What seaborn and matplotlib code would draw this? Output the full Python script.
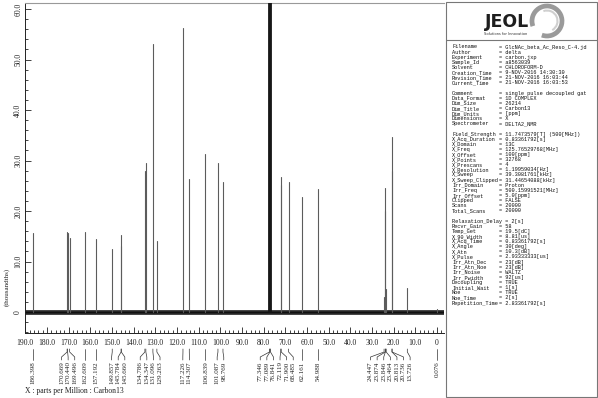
import numpy as np
import pandas as pd
import seaborn as sns
import matplotlib.pyplot as plt
from matplotlib.lines import Line2D
from matplotlib.patches import Arc, Rectangle
from matplotlib.transforms import blended_transform_factory
from matplotlib.ticker import MultipleLocator, FuncFormatter

# Peak list (ppm) and heights (thousandths)
peak_ppm = [186.398, 170.669, 170.440, 169.496, 162.609, 157.192, 149.857,
            145.784, 145.660, 134.786, 134.347, 131.096, 129.263, 117.226,
            114.307, 106.839, 101.087, 98.769, 77.346, 77.089, 76.841,
            72.119, 71.900, 68.485, 62.161, 54.988, 24.447, 23.874, 23.846,
            23.464, 20.813, 20.736, 13.726, 0.076]
peak_height = [15.6, 15.9, 15.6, 14.6, 15.8, 14.4, 12.5,
               15.2, 13.0, 28.0, 29.5, 53.0, 14.0, 56.3,
               26.3, 31.3, 29.5, 25.7, 95.0, 110.0, 95.0,
               26.7, 25.1, 25.7, 22.8, 24.3, 3.0, 24.5, 20.0,
               4.5, 34.6, 28.0, 4.8, 0.6]

# Acquisition parameters (None = blank line)
param_rows = [
    ("Filename", "GlcNAc_beta_Ac_Reso_C-4.jd"),
    ("Author", "delta"),
    ("Experiment", "carbon.jxp"),
    ("Sample_Id", "a8563039"),
    ("Solvent", "CHLOROFORM-D"),
    ("Creation_Time", "9-NOV-2016 14:30:30"),
    ("Revision_Time", "21-NOV-2016 16:03:44"),
    ("Current_Time", "21-NOV-2016 16:03:53"),
    None,
    ("Comment", "single pulse decoupled gat"),
    ("Data_Format", "1D COMPLEX"),
    ("Dim_Size", "26214"),
    ("Dim_Title", "Carbon13"),
    ("Dim_Units", "[ppm]"),
    ("Dimensions", "X"),
    ("Spectrometer", "DELTA2_NMR"),
    None,
    ("Field_Strength", "11.7473579[T] (500[MHz])"),
    ("X_Acq_Duration", "0.83361792[s]"),
    ("X_Domain", "13C"),
    ("X_Freq", "125.76529768[MHz]"),
    ("X_Offset", "100[ppm]"),
    ("X_Points", "32768"),
    ("X_Prescans", "4"),
    ("X_Resolution", "1.19959034[Hz]"),
    ("X_Sweep", "39.3081761[kHz]"),
    ("X_Sweep_Clipped", "31.44654088[kHz]"),
    ("Irr_Domain", "Proton"),
    ("Irr_Freq", "500.15991521[MHz]"),
    ("Irr_Offset", "5.0[ppm]"),
    ("Clipped", "FALSE"),
    ("Scans", "20000"),
    ("Total_Scans", "20000"),
    None,
    ("Relaxation_Delay", "2[s]"),
    ("Recvr_Gain", "58"),
    ("Temp_Get", "19.5[dC]"),
    ("X_90_Width", "8.81[us]"),
    ("X_Acq_Time", "0.83361792[s]"),
    ("X_Angle", "30[deg]"),
    ("X_Atn", "10.3[dB]"),
    ("X_Pulse", "2.93333333[us]"),
    ("Irr_Atn_Dec", "23[dB]"),
    ("Irr_Atn_Noe", "23[dB]"),
    ("Irr_Noise", "WALTZ"),
    ("Irr_Pwidth", "92[us]"),
    ("Decoupling", "TRUE"),
    ("Initial_Wait", "1[s]"),
    ("Noe", "TRUE"),
    ("Noe_Time", "2[s]"),
    ("Repetition_Time", "2.83361792[s]"),
]

sns.set_style("ticks")
plt.rcParams["font.family"] = ["Liberation Serif", "DejaVu Serif"]
SERIF = "Liberation Serif"
MONO = "Liberation Mono"

W, H = 598, 398
def px(x):
    return x / W
def fy(y):
    return 1 - y / H

fig = plt.figure(figsize=(W / 100, H / 100), dpi=100)
ax = fig.add_axes([px(25), fy(333), (444 - 25) / W, (333 - 3) / H])

# stick spectrum: one vertical segment per peak
rows = []
for i, (p, h) in enumerate(zip(peak_ppm, peak_height)):
    rows.append({"ppm": p, "y": 0.0, "peak": i})
    rows.append({"ppm": p, "y": h, "peak": i})
df = pd.DataFrame(rows)
off_scale = df.groupby("peak")["y"].transform("max") > 60

# noise band along the baseline
ax.axhline(0, color="#2b2b2b", lw=3.4, zorder=1)
ax.axhline(0, color="#111111", lw=1.0, zorder=1)
sns.lineplot(data=df[~off_scale], x="ppm", y="y", units="peak", estimator=None,
             sort=False, color="#5c5c5c", lw=0.8, ax=ax, zorder=2)
sns.lineplot(data=df[off_scale], x="ppm", y="y", units="peak", estimator=None,
             sort=False, color="#151515", lw=1.3, ax=ax, zorder=3)

ax.set_xlim(190.1, -3.2)
ax.set_ylim(-4.16, 61.2)
ax.set_xlabel("")
ax.set_ylabel("")

fmt = FuncFormatter(lambda v, _: "0" if abs(v) < 1e-9 else f"{v:.1f}")
ax.xaxis.set_major_locator(MultipleLocator(10))
ax.xaxis.set_minor_locator(MultipleLocator(2))
ax.yaxis.set_major_locator(MultipleLocator(10))
ax.yaxis.set_minor_locator(MultipleLocator(2))
ax.xaxis.set_major_formatter(fmt)
ax.yaxis.set_major_formatter(fmt)
ax.tick_params(which="both", direction="in", width=0.6, colors="#222",
               labelsize=5.5, labelcolor="#222")
ax.tick_params(which="major", length=4)
ax.tick_params(which="minor", length=2)
ax.tick_params(axis="x", pad=4)
ax.tick_params(axis="y", pad=2)
for lab in ax.get_yticklabels():
    lab.set_rotation(90)
    lab.set_rotation_mode("anchor")
    lab.set_ha("center")
    lab.set_va("bottom")

ax.spines["right"].set_visible(False)
ax.spines["top"].set_color("#999999")
for s in ["left", "bottom"]:
    ax.spines[s].set_color("#222")
    ax.spines[s].set_linewidth(0.7)

# peak labels spread apart like the JEOL plotter does
sep = 6.6 / 2.168
groups = [[p] for p in peak_ppm]
merged = True
while merged:
    merged = False
    new = [groups[0]]
    for g in groups[1:]:
        prev = new[-1]
        last_prev = np.mean(prev) - (len(prev) - 1) / 2 * sep
        first_g = np.mean(g) + (len(g) - 1) / 2 * sep
        if last_prev - first_g < sep:
            new[-1] = prev + g
            merged = True
        else:
            new.append(g)
    groups = new
label_pos = []
for g in groups:
    c, n = np.mean(g), len(g)
    label_pos += [c + ((n - 1) / 2 - k) * sep for k in range(n)]

trans = blended_transform_factory(ax.transData, fig.transFigure)
for p, lx in zip(peak_ppm, label_pos):
    ax.add_line(Line2D([p, p, lx, lx], [fy(349), fy(352), fy(357), fy(360)],
                       transform=trans, color="#333", lw=0.5, clip_on=False))
    ax.text(lx, fy(361.5), f"{p:.3f}", rotation=90, ha="center", va="top",
            transform=trans, fontsize=5, family=SERIF, color="#222")

fig.text(px(7), fy(287), "(thousandths)", rotation=90, ha="center", va="center",
         fontsize=5, family=SERIF, color="#222")
fig.text(px(25), fy(391), "X : parts per Million : Carbon13", ha="left",
         va="center", fontsize=5.5, family=SERIF, color="#222")

# right information panel
fig.add_artist(Rectangle((px(446), fy(397)), (597 - 446) / W, (397 - 2) / H,
                         transform=fig.transFigure, fill=False, ec="#777", lw=0.8))
fig.add_artist(Line2D([px(446), px(597)], [fy(40), fy(40)],
                      transform=fig.transFigure, color="#777", lw=0.8))

fig.text(px(507), fy(22), "JEOL", fontsize=12.5, weight="heavy",
         family="DejaVu Sans", ha="center", va="center", color="#1e1e1e")
fig.text(px(506), fy(34), "Solutions for Innovation", fontsize=2.6,
         family="DejaVu Sans", ha="center", va="center", color="#333")
fig.add_artist(Arc((5.47, (H - 21) / 100), 0.30, 0.30, theta1=-110, theta2=200,
                   transform=fig.dpi_scale_trans, color="#9a9a9a", lw=3.4))
fig.add_artist(Arc((5.47, (H - 21) / 100), 0.21, 0.21, theta1=-60, theta2=110,
                   transform=fig.dpi_scale_trans, color="#cfcfcf", lw=1.5))

for i, row in enumerate(param_rows):
    if row is None:
        continue
    y = fy(47 + 5.12 * i)
    name, value = row
    if len(name) > 15:
        fig.text(px(452), y, f"{name} = {value}", fontsize=3.8, family=MONO,
                 va="center", color="#111")
    else:
        fig.text(px(452), y, name, fontsize=3.8, family=MONO, va="center", color="#111")
        fig.text(px(499), y, f"= {value}", fontsize=3.8, family=MONO,
                 va="center", color="#111")

fig.savefig("out.png", dpi=100)
